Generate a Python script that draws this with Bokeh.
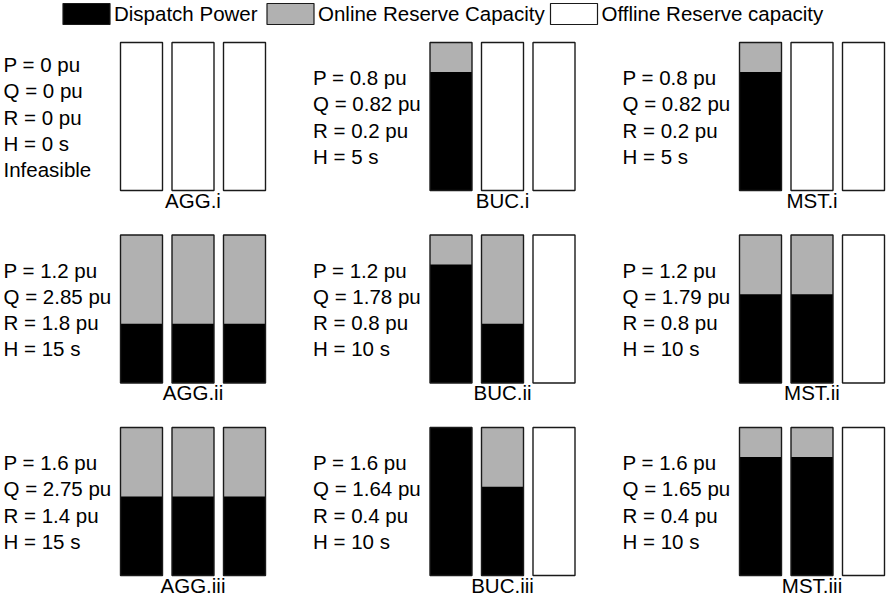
from bokeh.plotting import figure
from bokeh.models import Range1d, ColumnDataSource
from bokeh.core.properties import value
from bokeh.embed import file_html
from bokeh.resources import INLINE

# ---- data -------------------------------------------------------------
scenarios = ["AGG.i", "BUC.i", "MST.i",
             "AGG.ii", "BUC.ii", "MST.ii",
             "AGG.iii", "BUC.iii", "MST.iii"]
P_pu = [0, 0.8, 0.8, 1.2, 1.2, 1.2, 1.6, 1.6, 1.6]
Q_pu = ["0", "0.82", "0.82", "2.85", "1.78", "1.79", "2.75", "1.64", "1.65"]
R_pu = [0, 0.2, 0.2, 1.8, 0.8, 0.8, 1.4, 0.4, 0.4]
H_s = [0, 5, 5, 15, 10, 10, 15, 10, 10]
notes = ["Infeasible", "", "", "", "", "", "", "", ""]

# dispatch of each of the three units (pu of unit capacity)
dispatch = [
    [0, 0, 0],
    [0.8, 0, 0],
    [0.8, 0, 0],
    [0.4, 0.4, 0.4],
    [0.8, 0.4, 0],
    [0.6, 0.6, 0],
    [0.533, 0.533, 0.533],
    [1.0, 0.6, 0],
    [0.8, 0.8, 0],
]
# commitment status of each unit (1 = online, 0 = offline)
online = [
    [0, 0, 0],
    [1, 0, 0],
    [1, 0, 0],
    [1, 1, 1],
    [1, 1, 0],
    [1, 1, 0],
    [1, 1, 1],
    [1, 1, 0],
    [1, 1, 0],
]
unit_capacity = 1.0

legend_labels = ["Dispatch Power", "Online Reserve Capacity", "Offline Reserve capacity"]

# ---- layout (screen-like units, y grows downward) ---------------------
W, H = 891, 599
PU_PX = 148.0          # height of one unit of capacity
BAR_W = 42.0
BAR_PITCH = 51.5
COL_X0, COL_PITCH = 120.0, 309.5
ROW_Y0, ROW_PITCH = 42.0, 192.5
TEXT_DX = -117.0
LINE_H = 26.2
FONT = value("Liberation Sans")
FSIZE = "20.5px"
BLACK, GRAY = "#000000", "#b1b1b1"

p = figure(width=W, height=H, x_range=Range1d(0, W), y_range=Range1d(H, 0),
           output_backend="svg", toolbar_location=None, min_border=0)
p.axis.visible = False
p.grid.visible = False
p.outline_line_color = None
p.background_fill_color = "white"
p.border_fill_color = "white"

frame = dict(left=[], right=[], top=[], bottom=[])
grey = dict(left=[], right=[], top=[], bottom=[])
dark = dict(left=[], right=[], top=[], bottom=[])
txt = dict(x=[], y=[], t=[])
cap = dict(x=[], y=[], t=[])

for k, name in enumerate(scenarios):
    r, c = divmod(k, 3)
    x0 = COL_X0 + c * COL_PITCH
    base = ROW_Y0 + r * ROW_PITCH + unit_capacity * PU_PX
    for u in range(3):
        left = x0 + u * BAR_PITCH
        right = left + BAR_W
        frame["left"].append(left); frame["right"].append(right)
        frame["bottom"].append(base); frame["top"].append(base - unit_capacity * PU_PX)
        if online[k][u]:
            grey["left"].append(left); grey["right"].append(right)
            grey["bottom"].append(base); grey["top"].append(base - unit_capacity * PU_PX)
        if dispatch[k][u] > 0:
            dark["left"].append(left); dark["right"].append(right)
            dark["bottom"].append(base); dark["top"].append(base - dispatch[k][u] * PU_PX)
    # scenario caption under the middle unit
    cap["x"].append(x0 + BAR_PITCH + BAR_W / 2)
    cap["y"].append(base + 9.5)
    cap["t"].append(name)
    # summary text block, vertically centred on the bars
    lines = [f"P = {P_pu[k]:g} pu", f"Q = {Q_pu[k]} pu",
             f"R = {R_pu[k]:g} pu", f"H = {H_s[k]:g} s"]
    if notes[k]:
        lines.append(notes[k])
    mid = base - unit_capacity * PU_PX / 2
    n = len(lines)
    for i, s in enumerate(lines):
        txt["x"].append(x0 + TEXT_DX)
        txt["y"].append(mid + (i - (n - 1) / 2) * LINE_H + 0.5)
        txt["t"].append(s)

p.quad(source=ColumnDataSource(frame), left="left", right="right", top="top",
       bottom="bottom", fill_color="white", line_color=None)
p.quad(source=ColumnDataSource(grey), left="left", right="right", top="top",
       bottom="bottom", fill_color=GRAY, line_color=None)
p.quad(source=ColumnDataSource(dark), left="left", right="right", top="top",
       bottom="bottom", fill_color=BLACK, line_color=None)
p.quad(source=ColumnDataSource(frame), left="left", right="right", top="top",
       bottom="bottom", fill_color=None, line_color="#1a1a1a", line_width=1.4)

p.text(source=ColumnDataSource(txt), x="x", y="y", text="t", text_font=FONT,
       text_font_size=FSIZE, text_baseline="middle", text_align="left",
       text_color="black")
p.text(source=ColumnDataSource(cap), x="x", y="y", text="t", text_font=FONT,
       text_font_size=FSIZE, text_baseline="middle", text_align="center",
       text_color="black")

# legend across the top
leg_left = [62.5, 266.5, 550.0]
leg_fill = [BLACK, GRAY, "white"]
p.quad(left=leg_left, right=[x + 47 for x in leg_left], top=[3] * 3, bottom=[24] * 3,
       fill_color=leg_fill, line_color="#1a1a1a", line_width=1.2)
p.text(x=[x + 51 for x in leg_left], y=[13] * 3, text=legend_labels, text_font=FONT,
       text_font_size=FSIZE, text_baseline="middle", text_align="left",
       text_color="black")

open("out.html", "w").write(file_html(p, INLINE))
